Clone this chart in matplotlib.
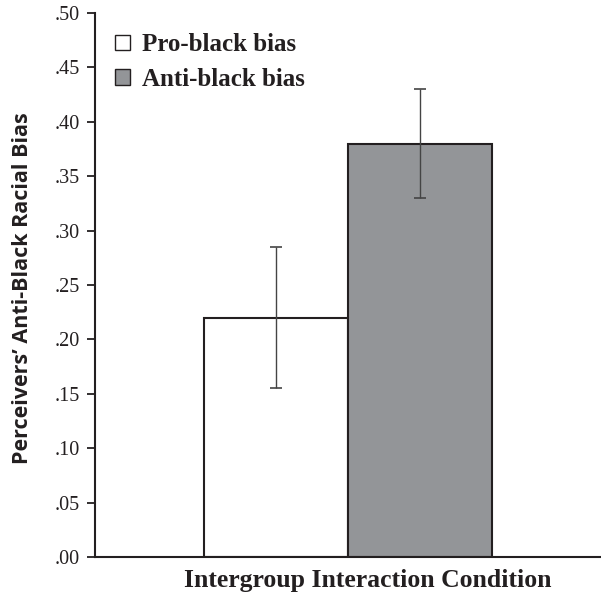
import numpy as np
import matplotlib
matplotlib.use('Agg')
import matplotlib.pyplot as plt
from matplotlib.patches import Patch

# data
groups = ['Pro-black bias', 'Anti-black bias']
means = [0.22, 0.38]
errs = [0.065, 0.05]
colors = ['white', '#939598']
yticks = [0.0, 0.05, 0.10, 0.15, 0.20, 0.25, 0.30, 0.35, 0.40, 0.45, 0.50]
yticklabels = ['.00', '.05', '.10', '.15', '.20', '.25', '.30', '.35', '.40', '.45', '.50']

fig = plt.figure(figsize=(6.01, 5.95), dpi=100)
ax = fig.add_axes([95/601, 1-557/595, 505/601, 544/595])

x = np.arange(len(groups))
ax.bar(x, means, width=1.0, color=colors, edgecolor='#231f20', linewidth=1.5, zorder=2)
ax.errorbar(x, means, yerr=errs, fmt='none', ecolor='#444444', elinewidth=1.0,
            capsize=4.5, capthick=1.2, zorder=3)

ax.set_xlim(-1.257, 2.25)
ax.set_ylim(0, 0.5)
ax.set_yticks(yticks)
ax.set_yticklabels(yticklabels, family='Liberation Serif', fontsize=14.5, color='#231f20')
ax.set_xticks([])
ax.tick_params(axis='y', direction='out', length=6, width=1.3, color='#231f20', pad=5)
for s in ['top', 'right']:
    ax.spines[s].set_visible(False)
for s in ['left', 'bottom']:
    ax.spines[s].set_linewidth(1.5)
    ax.spines[s].set_color('#231f20')

fig.text(23/601, 1-288/595, 'Perceivers\u2019 Anti-Black Racial Bias', family='Open Sans',
         fontweight='bold', fontsize=15.5, rotation=90, ha='center', va='center', color='#231f20')
fig.text(368/601, 1-581/595, 'Intergroup Interaction Condition', family='Liberation Serif',
         fontweight='bold', fontsize=18.5, ha='center', va='center', color='#231f20')

handles = [Patch(facecolor=c, edgecolor='#231f20', linewidth=1.0) for c in colors]
leg = ax.legend(handles, groups, loc='upper left', bbox_to_anchor=(-0.004, 1.004), frameon=False,
                handlelength=0.6, handleheight=0.6, handletextpad=0.45, labelspacing=0.45,
                prop={'family': 'Liberation Serif', 'weight': 'bold', 'size': 18})
for t in leg.get_texts():
    t.set_color('#231f20')

plt.savefig('out.png', dpi=100)
